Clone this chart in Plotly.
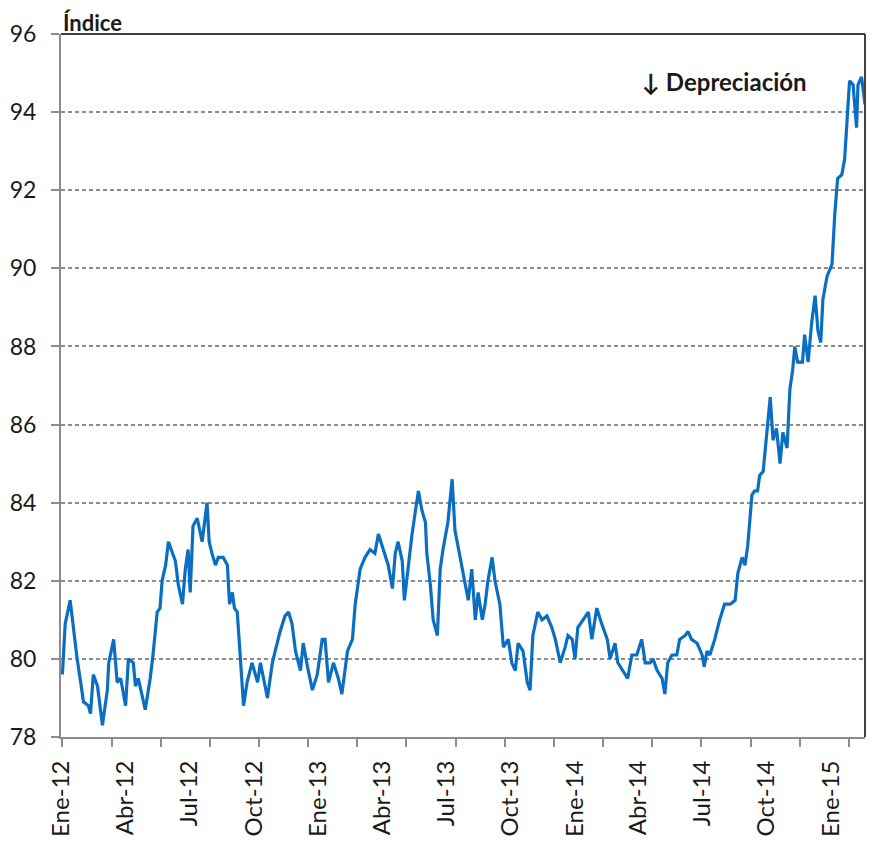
import plotly.graph_objects as go

fechas = [
    "2012-01-02", "2012-01-06", "2012-01-13", "2012-01-18", "2012-01-23", "2012-01-28",
    "2012-02-01", "2012-02-08", "2012-02-11", "2012-02-15", "2012-02-21", "2012-02-28",
    "2012-03-06", "2012-03-08", "2012-03-15", "2012-03-20", "2012-03-25", "2012-04-01",
    "2012-04-05", "2012-04-12", "2012-04-15", "2012-04-19", "2012-04-29", "2012-05-06",
    "2012-05-10", "2012-05-16", "2012-05-20", "2012-05-23", "2012-05-28", "2012-06-01",
    "2012-06-07", "2012-06-11", "2012-06-15", "2012-06-21", "2012-06-25", "2012-06-29",
    "2012-07-02", "2012-07-06", "2012-07-12", "2012-07-19", "2012-07-26", "2012-07-29",
    "2012-08-02", "2012-08-07", "2012-08-11", "2012-08-18", "2012-08-24", "2012-08-27",
    "2012-08-31", "2012-09-03", "2012-09-07", "2012-09-11", "2012-09-16", "2012-09-21",
    "2012-09-28", "2012-10-06", "2012-10-10", "2012-10-20", "2012-10-27", "2012-10-31",
    "2012-11-07", "2012-11-14", "2012-11-19", "2012-11-24", "2012-11-29", "2012-12-06",
    "2012-12-10", "2012-12-16", "2012-12-23", "2012-12-30", "2013-01-06", "2013-01-10",
    "2013-01-15", "2013-01-22", "2013-01-29", "2013-02-03", "2013-02-11", "2013-02-18",
    "2013-02-22", "2013-03-01", "2013-03-08", "2013-03-15", "2013-03-22", "2013-03-27",
    "2013-04-03", "2013-04-10", "2013-04-16", "2013-04-20", "2013-04-24", "2013-04-30",
    "2013-05-03", "2013-05-08", "2013-05-14", "2013-05-18", "2013-05-23", "2013-05-28",
    "2013-06-02", "2013-06-04", "2013-06-09", "2013-06-13", "2013-06-19", "2013-06-23",
    "2013-06-27", "2013-07-04", "2013-07-10", "2013-07-14", "2013-07-19", "2013-07-24",
    "2013-07-28", "2013-08-02", "2013-08-07", "2013-08-12", "2013-08-16", "2013-08-22",
    "2013-08-26", "2013-08-30", "2013-09-05", "2013-09-09", "2013-09-16", "2013-09-21",
    "2013-09-28", "2013-10-03", "2013-10-08", "2013-10-12", "2013-10-19", "2013-10-25",
    "2013-10-29", "2013-11-02", "2013-11-09", "2013-11-15", "2013-11-22", "2013-11-29",
    "2013-12-04", "2013-12-11", "2013-12-18", "2013-12-22", "2013-12-28", "2014-01-01",
    "2014-01-05", "2014-01-12", "2014-01-20", "2014-01-25", "2014-02-01", "2014-02-08",
    "2014-02-16", "2014-02-20", "2014-02-27", "2014-03-03", "2014-03-10", "2014-03-17",
    "2014-03-23", "2014-03-30", "2014-04-06", "2014-04-11", "2014-04-18", "2014-04-22",
    "2014-04-28", "2014-05-05", "2014-05-09", "2014-05-13", "2014-05-19", "2014-05-26",
    "2014-05-30", "2014-06-07", "2014-06-11", "2014-06-16", "2014-06-24", "2014-07-01",
    "2014-07-04", "2014-07-08", "2014-07-12", "2014-07-19", "2014-07-26", "2014-08-02",
    "2014-08-10", "2014-08-17", "2014-08-21", "2014-08-27", "2014-08-31", "2014-09-04",
    "2014-09-10", "2014-09-14", "2014-09-18", "2014-09-21", "2014-09-26", "2014-10-01",
    "2014-10-06", "2014-10-10", "2014-10-15", "2014-10-20", "2014-10-24", "2014-10-30",
    "2014-11-03", "2014-11-07", "2014-11-10", "2014-11-14", "2014-11-21", "2014-11-24",
    "2014-11-29", "2014-12-04", "2014-12-09", "2014-12-13", "2014-12-17", "2014-12-20",
    "2014-12-26", "2015-01-02", "2015-01-06", "2015-01-10", "2015-01-16", "2015-01-20",
    "2015-01-24", "2015-01-27", "2015-02-01", "2015-02-06", "2015-02-08", "2015-02-13",
    "2015-02-18",
]
indice = [
    79.6, 80.9, 81.5, 80.7, 80.0, 79.4,
    78.9, 78.8, 78.6, 79.6, 79.3, 78.3,
    79.2, 79.9, 80.5, 79.4, 79.5, 78.8,
    80.0, 79.9, 79.3, 79.5, 78.7, 79.5,
    80.1, 81.2, 81.3, 82.0, 82.4, 83.0,
    82.7, 82.5, 81.9, 81.4, 82.3, 82.8,
    81.7, 83.4, 83.6, 83.0, 84.0, 83.0,
    82.7, 82.4, 82.6, 82.6, 82.4, 81.4,
    81.7, 81.3, 81.2, 80.0, 78.8, 79.4,
    79.9, 79.4, 79.9, 79.0, 79.9, 80.2,
    80.7, 81.1, 81.2, 80.9, 80.2, 79.7,
    80.4, 79.8, 79.2, 79.6, 80.5, 80.5,
    79.4, 79.9, 79.5, 79.1, 80.2, 80.5,
    81.4, 82.3, 82.6, 82.8, 82.7, 83.2,
    82.8, 82.4, 81.8, 82.7, 83.0, 82.5,
    81.5, 82.3, 83.2, 83.7, 84.3, 83.8,
    83.5, 82.7, 81.9, 81.0, 80.6, 82.3,
    82.8, 83.5, 84.6, 83.3, 82.8, 82.3,
    81.9, 81.5, 82.3, 81.0, 81.7, 81.0,
    81.4, 82.0, 82.6, 82.0, 81.4, 80.3,
    80.5, 79.9, 79.7, 80.4, 80.2, 79.4,
    79.2, 80.6, 81.2, 81.0, 81.1, 80.8,
    80.5, 79.9, 80.3, 80.6, 80.5, 80.0,
    80.8, 81.0, 81.2, 80.5, 81.3, 80.9,
    80.5, 80.0, 80.4, 79.9, 79.7, 79.5,
    80.1, 80.1, 80.5, 79.9, 79.9, 80.0,
    79.7, 79.5, 79.1, 79.9, 80.1, 80.1,
    80.5, 80.6, 80.7, 80.5, 80.4, 80.1,
    79.8, 80.2, 80.1, 80.5, 81.0, 81.4,
    81.4, 81.5, 82.2, 82.6, 82.4, 82.9,
    84.2, 84.3, 84.3, 84.7, 84.8, 85.8,
    86.7, 85.6, 85.9, 85.0, 85.8, 85.4,
    86.9, 87.4, 88.0, 87.6, 87.6, 88.3,
    87.6, 88.6, 89.3, 88.4, 88.1, 89.2,
    89.8, 90.1, 91.4, 92.3, 92.4, 92.8,
    94.0, 94.8, 94.7, 93.6, 94.7, 94.9,
    94.2,
]

# Etiquetas trimestrales del eje x
tick_fechas = [
    "2012-01-01", "2012-04-01", "2012-07-01", "2012-10-01",
    "2013-01-01", "2013-04-01", "2013-07-01", "2013-10-01",
    "2014-01-01", "2014-04-01", "2014-07-01", "2014-10-01",
    "2015-01-01",
]
tick_textos = [
    "Ene-12", "Abr-12", "Jul-12", "Oct-12",
    "Ene-13", "Abr-13", "Jul-13", "Oct-13",
    "Ene-14", "Abr-14", "Jul-14", "Oct-14",
    "Ene-15",
]

fuente = "Lato, 'Open Sans', sans-serif"
azul = "#0a6fc2"
gris = "#8c8c8c"

fig = go.Figure(go.Scatter(
    x=fechas, y=indice, mode="lines",
    line=dict(color=azul, width=3.2),
    showlegend=False,
))

# la página deja 8px de margen en el body, se descuentan aquí
fig.update_layout(
    width=867, height=835,
    margin=dict(l=53, r=10, t=26, b=106, autoexpand=False),
    paper_bgcolor="white", plot_bgcolor="white",
    font=dict(family=fuente, color="#1a1a1a"),
    xaxis=dict(
        type="date", automargin=False,
        range=["2011-12-31", "2015-02-18"],
        tickmode="array", tickvals=tick_fechas, ticktext=tick_textos,
        tickangle=-90, tickfont=dict(size=24),
        ticks="", showgrid=False, ticklabelstandoff=12,
        showline=True, linecolor=gris, linewidth=2,
        minor=dict(ticks="outside", ticklen=8, tickcolor=gris, tickwidth=2,
                   tick0="2012-01-02", dtick=70 * 86400000, showgrid=False),
        zeroline=False,
    ),
    yaxis=dict(
        range=[78, 96], dtick=2, tick0=78, automargin=False,
        tickfont=dict(size=23),
        ticks="outside", ticklen=8, tickcolor=gris, tickwidth=2,
        ticklabelstandoff=10,
        showgrid=True, gridcolor=gris, griddash="4px,3px", gridwidth=1.5,
        showline=True, linecolor=gris, linewidth=2,
        zeroline=False,
    ),
    shapes=[
        dict(type="line", xref="paper", yref="paper", x0=0, x1=1, y0=1, y1=1,
             line=dict(color="#404040", width=2)),
        dict(type="line", xref="paper", yref="paper", x0=1, x1=1, y0=0, y1=1,
             line=dict(color="#404040", width=2)),
    ],
    annotations=[
        dict(text="<b>Índice</b>", xref="paper", yref="paper", x=0, y=1,
             xanchor="left", yanchor="bottom", yshift=-4, showarrow=False,
             font=dict(size=22, family=fuente)),
        dict(text="<b>↓ Depreciación</b>", xref="paper", yref="paper", x=0.72, y=0.932,
             xanchor="left", yanchor="middle", showarrow=False,
             font=dict(size=24, family=fuente)),
    ],
)

fig.write_html("out.html")
